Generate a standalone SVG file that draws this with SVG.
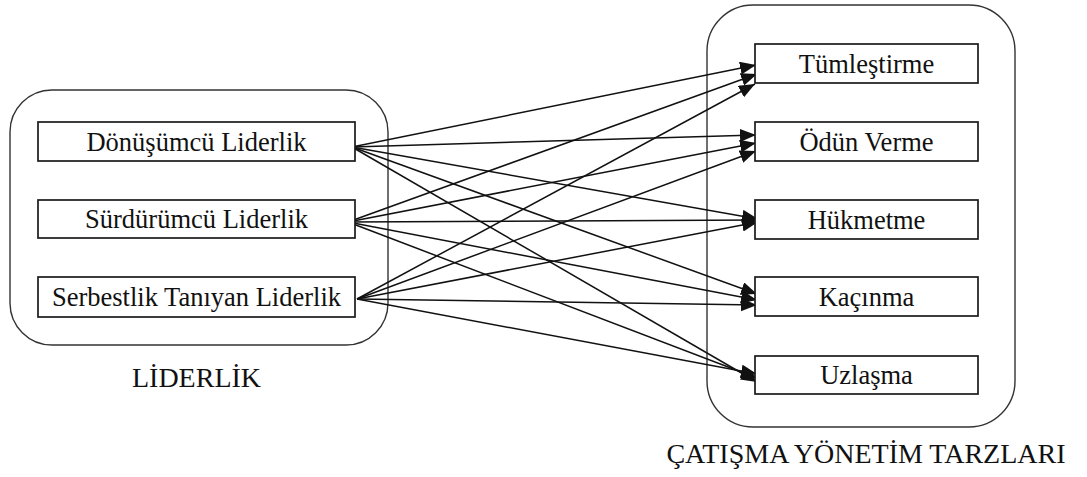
<svg xmlns="http://www.w3.org/2000/svg" width="1087" height="477" viewBox="0 0 1087 477">
  <style>
    .panel { fill: none; stroke: #333; stroke-width: 1.4; }
    .box { fill: #fff; stroke: #1a1a1a; stroke-width: 1.7; }
    .lbl { font-family: "Liberation Serif", "DejaVu Serif", serif; font-size: 26.5px; fill: #111; text-anchor: middle; }
    .title { font-family: "Liberation Serif", "DejaVu Serif", serif; font-size: 28px; fill: #111; text-anchor: middle; }
    .conn line { stroke: #111; stroke-width: 1.5; marker-end: url(#arrow); }
  </style>
  <defs>
    <marker id="arrow" markerUnits="userSpaceOnUse" markerWidth="17" markerHeight="14" refX="16" refY="6.5" orient="auto">
      <path d="M0,0 L16,6.5 L0,13 z" fill="#111"/>
    </marker>
  </defs>

  <rect fill="#fff" width="1087" height="477"/>

  <!-- containers -->
  <g id="liderlik-group">
    <rect class="panel" x="10" y="90" width="378" height="255" rx="42" ry="42"/>
    <text class="title" x="196.5" y="387">LİDERLİK</text>
  </g>
  <g id="catisma-group">
    <rect class="panel" x="707" y="5" width="308" height="422" rx="46" ry="46"/>
    <text class="title" x="866" y="463">ÇATIŞMA YÖNETİM TARZLARI</text>
  </g>

  <!-- connectors -->
  <g id="connectors" class="conn">
    <!-- Dönüşümcü Liderlik -->
    <line x1="352" y1="147" x2="756" y2="65"/>
    <line x1="352" y1="147" x2="756" y2="135"/>
    <line x1="352" y1="147" x2="758" y2="219"/>
    <line x1="352" y1="147" x2="757" y2="294"/>
    <line x1="352" y1="147" x2="757" y2="382"/>
    <!-- Sürdürümcü Liderlik -->
    <line x1="348" y1="222" x2="757" y2="74"/>
    <line x1="348" y1="222" x2="756" y2="143"/>
    <line x1="348" y1="222" x2="759" y2="220"/>
    <line x1="348" y1="222" x2="757" y2="300"/>
    <line x1="348" y1="222" x2="757" y2="378"/>
    <!-- Serbestlik Tanıyan Liderlik -->
    <line x1="357" y1="299" x2="755" y2="84"/>
    <line x1="357" y1="299" x2="756" y2="151"/>
    <line x1="357" y1="299" x2="758" y2="222"/>
    <line x1="357" y1="299" x2="757" y2="305"/>
    <line x1="357" y1="299" x2="757" y2="374"/>
  </g>

  <!-- left nodes -->
  <g id="donusumcu">
    <rect class="box" x="38" y="122" width="317" height="39"/>
    <text class="lbl" x="196.5" y="151">Dönüşümcü Liderlik</text>
  </g>
  <g id="surdurumcu">
    <rect class="box" x="38" y="200" width="317" height="38"/>
    <text class="lbl" x="196.5" y="228">Sürdürümcü Liderlik</text>
  </g>
  <g id="serbestlik">
    <rect class="box" x="38" y="277" width="317" height="40"/>
    <text class="lbl" x="196.5" y="306">Serbestlik Tanıyan Liderlik</text>
  </g>

  <!-- right nodes -->
  <g id="tumlestirme">
    <rect class="box" x="755" y="44" width="223" height="39"/>
    <text class="lbl" x="866.5" y="73">Tümleştirme</text>
  </g>
  <g id="odun-verme">
    <rect class="box" x="755" y="122" width="223" height="39"/>
    <text class="lbl" x="866.5" y="151">Ödün Verme</text>
  </g>
  <g id="hukmetme">
    <rect class="box" x="755" y="200" width="223" height="39"/>
    <text class="lbl" x="866.5" y="229">Hükmetme</text>
  </g>
  <g id="kacinma">
    <rect class="box" x="755" y="277" width="223" height="39"/>
    <text class="lbl" x="866.5" y="306">Kaçınma</text>
  </g>
  <g id="uzlasma">
    <rect class="box" x="755" y="356" width="223" height="38"/>
    <text class="lbl" x="866.5" y="384">Uzlaşma</text>
  </g>
</svg>
